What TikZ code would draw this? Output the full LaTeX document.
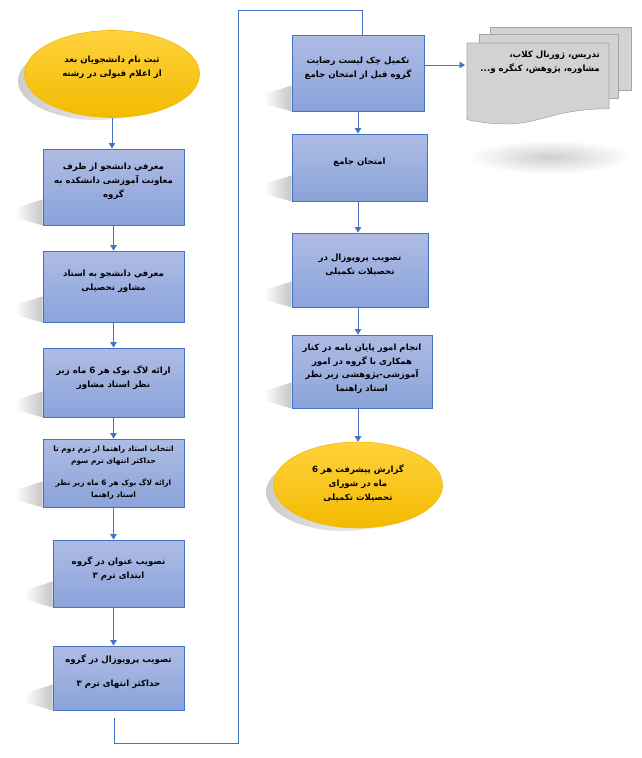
\documentclass[tikz,border=0pt]{standalone}
\usepackage{fontspec}
\newfontfamily\fa[Script=Arabic]{DejaVu Sans}
\TeXXeTstate=1
\newcommand\faline[1]{\beginR #1\endR}
\usetikzlibrary{arrows.meta,shapes.geometric,calc,backgrounds}
\definecolor{bline}{HTML}{4472C4}
\definecolor{btop}{RGB}{174,188,228}
\definecolor{bbot}{RGB}{138,163,218}
\definecolor{etop}{RGB}{255,210,60}
\definecolor{ebot}{RGB}{242,186,0}
\definecolor{pagefill}{RGB}{210,210,210}
\definecolor{pageline}{RGB}{165,165,165}
\tikzset{
  stepbox/.style={draw=bline, line width=0.9pt, top color=btop, bottom color=bbot, inner sep=0pt},
  oval/.style={ellipse, draw=ebot, line width=0.6pt, top color=etop, bottom color=ebot, inner sep=0pt},
  txt/.style={align=center, inner sep=0pt, font=\fa\bfseries\fontsize{8.6}{14}\selectfont},
  conn/.style={draw=bline, line width=0.9pt},
  arr/.style={conn, -{Triangle[width=6.5pt,length=5.5pt]}},
  shad/.style={left color=white, right color=gray!45, draw=none},
  oshad/.style={left color=gray!40, right color=white, draw=none},
  page/.style={draw=pageline, line width=0.6pt, fill=pagefill}
}
\newcommand\boxshadow[1]{\shade[shad] ($(#1.south west)+(0,-26)$) -- ++(-28,9) -- ++(0,9) -- (#1.south west) -- cycle;}
\begin{document}
\begin{tikzpicture}[x=1pt,y=-1pt]
\useasboundingbox (0,0) rectangle (641,758);
% ---------- left column ----------
\node[oval, minimum width=175pt, minimum height=87pt] (e1) at (112,74) {};
\node[txt] (t0) at (112,67) {\faline{ثبت نام دانشجویان بعد}\\\faline{از اعلام قبولی در رشته}};
\node[stepbox, minimum width=141pt, minimum height=76pt] (b1) at (113.5,187) {};
\node[txt] (t1) at (113.5,181) {\faline{معرفي دانشجو از طرف}\\\faline{معاونت آموزشی دانشکده به}\\\faline{گروه}};
\node[stepbox, minimum width=141pt, minimum height=71pt] (b2) at (113.5,286.5) {};
\node[txt] (t2) at (113.5,281) {\faline{معرفي دانشجو به استاد}\\\faline{مشاور تحصیلی}};
\node[stepbox, minimum width=141pt, minimum height=69pt] (b3) at (113.5,382.5) {};
\node[txt] (t3) at (113.5,378) {\faline{ارائه لاگ بوک هر 6 ماه زیر}\\\faline{نظر استاد مشاور}};
\node[stepbox, minimum width=141pt, minimum height=68pt] (b4) at (113.5,473) {};
\node[txt, font=\fa\bfseries\fontsize{7.4}{12}\selectfont] (t4) at (113.5,473) {\faline{انتخاب استاد راهنما  از ترم دوم تا}\\\faline{حداکثر انتهای ترم سوم}\\[10pt]\faline{ارائه لاگ بوک هر 6 ماه زیر نظر}\\\faline{استاد راهنما}};
\node[stepbox, minimum width=131pt, minimum height=67pt] (b5) at (118.5,573.5) {};
\node[txt] (t5) at (118.5,569) {\faline{تصویب عنوان در گروه}\\\faline{ابتدای ترم ۳}};
\node[stepbox, minimum width=131pt, minimum height=64pt] (b6) at (118.5,678) {};
\node[txt] (t6) at (118.5,672) {\faline{تصویب پروپوزال در گروه}\\[10pt]\faline{حداکثر انتهای ترم ۳}};
% ---------- right column ----------
\node[stepbox, minimum width=132pt, minimum height=76pt] (b7) at (358,73) {};
\node[txt] (t7) at (358,68) {\faline{تکمیل چک لیست رضایت}\\\faline{گروه قبل از امتحان جامع}};
\node[stepbox, minimum width=135pt, minimum height=67pt] (b8) at (359.5,167.5) {};
\node[txt] (t8) at (359.5,162) {\faline{امتحان جامع}};
\node[stepbox, minimum width=136pt, minimum height=74pt] (b9) at (360,270) {};
\node[txt] (t9) at (360,265) {\faline{تصویب پروپوزال در}\\\faline{تحصیلات تکمیلی}};
\node[stepbox, minimum width=140pt, minimum height=73pt] (b10) at (362,371.5) {};
\node[txt, font=\fa\bfseries\fontsize{8.6}{13.5}\selectfont] (t10) at (362,369) {\faline{انجام امور پایان نامه در کنار}\\\faline{همکاری با گروه در امور}\\\faline{آموزشی-پژوهشی زیر نظر}\\\faline{استاد راهنما}};
\node[oval, minimum width=169pt, minimum height=86pt] (e2) at (358,485) {};
\node[txt] (t11) at (358,483) {\faline{گزارش پیشرفت هر 6}\\\faline{ماه در شورای}\\\faline{تحصیلات تکمیلی}};
% ---------- document stack ----------
\draw[page] (490,27) rectangle (631,90);
\draw[page] (479,34) rectangle (618,98);
\draw[page] (467,43) -- (609,43) -- (609,108.8) .. controls (538,108.8) and (538,133.8) .. (467,119.6) -- cycle;
\node[txt, align=right, anchor=east] (doc) at (600,62) {\faline{تدریس، ژورنال کلاب،}\\\faline{مشاوره، پژوهش، کنگره و...}};
\coordinate (docin) at (465,65);
% ---------- connectors ----------
\draw[arr] (e1.south) -- (e1.south |- b1.north);
\draw[arr] (b1.south) -- (b2.north);
\draw[arr] (b2.south) -- (b3.north);
\draw[arr] (b3.south) -- (b4.north);
\draw[arr] (b4.south) -- (b4.south |- b5.north);
\draw[arr] (b5.south -| b4.south) -- (b4.south |- b6.north);
\coordinate (loopstart) at (114,718);
\draw[conn] (loopstart) -- ++(0,25) -| (238,10) -| ([xshift=4pt]b7.north);
\draw[arr] ([yshift=8pt]b7.east) -- (docin);
\draw[arr] (b7.south) -- (b7.south |- b8.north);
\draw[arr] (b7.south |- b8.south) -- (b7.south |- b9.north);
\draw[arr] (b7.south |- b9.south) -- (b7.south |- b10.north);
\draw[arr] (b7.south |- b10.south) -- (e2.north);
% ---------- shadows ----------
\begin{scope}[on background layer]
\foreach \b in {b1,b2,b3,b4,b5,b6,b7,b8,b9,b10}{\boxshadow{\b}}
\shade[oshad] ($(e1.center)+(-14,7)$) ellipse [x radius=80pt, y radius=39pt];
\shade[oshad] ($(e2.center)+(-14,7)$) ellipse [x radius=78pt, y radius=39pt];
\shade[inner color=gray!38, outer color=white] (468,140) rectangle (632,174);
\end{scope}
\end{tikzpicture}
\end{document}
